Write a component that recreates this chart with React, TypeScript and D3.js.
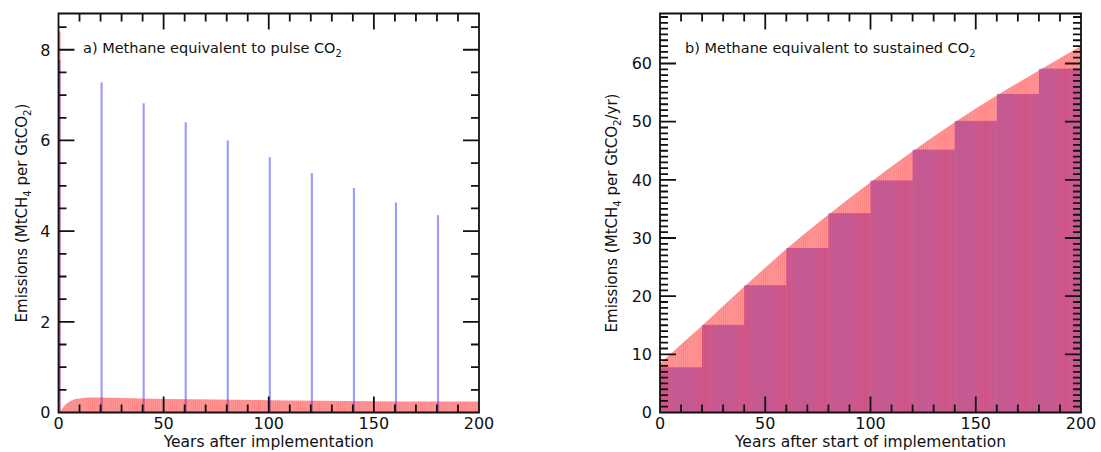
import { useEffect, useRef } from "react";
import * as d3 from "d3";

// panel a) methane equivalent to a CO2 pulse
const pulseYears = [0, 20, 40, 60, 80, 100, 120, 140, 160, 180];
const co2PulseEquiv = [7.78, 7.28, 6.82, 6.4, 6.0, 5.63, 5.28, 4.95, 4.63, 4.35];
const ch4SpikeYear = 0;
const ch4SpikeValue = 8.4;
const ch4TailYears = [1, 2, 3, 5, 7, 10, 15, 20, 30, 50, 75, 100, 125, 150, 175, 200];
const ch4TailValues = [0.04, 0.1, 0.16, 0.23, 0.28, 0.31, 0.33, 0.33, 0.32, 0.3, 0.285, 0.27, 0.26, 0.25, 0.245, 0.24];

// panel b) methane equivalent to sustained CO2
const stepStarts = [0, 20, 40, 60, 80, 100, 120, 140, 160, 180];
const stepWidth = 20;
const co2SustainedEquiv = [7.78, 15.06, 21.88, 28.28, 34.28, 39.91, 45.19, 50.14, 54.77, 59.12];
const ch4SustYears = [0, 10, 20, 30, 40, 60, 80, 100, 120, 140, 160, 180, 200];
const ch4SustValues = [8.4, 11.7, 14.9, 18.3, 21.6, 28.1, 34.0, 39.6, 44.9, 49.9, 54.5, 58.8, 63.0];

const xMajor = [0, 50, 100, 150, 200];
const xMinor = d3.range(0, 201, 10);
const yMajorA = [0, 2, 4, 6, 8];
const yMajorB = [0, 10, 20, 30, 40, 50, 60];

const FONT = "DejaVu Sans";

type Seg = { t: string; sub?: boolean };

function rich(sel: any, segs: Seg[], size: number) {
  const shift = size * 0.28;
  let down = false;
  segs.forEach((s) => {
    const ts = sel.append("tspan").text(s.t);
    if (s.sub) {
      ts.attr("font-size", size * 0.68).attr("dy", down ? 0 : shift);
      down = true;
    } else if (down) {
      ts.attr("dy", -shift);
      down = false;
    }
  });
}

function drawPanel(svg: any, defs: any, tickPath: any, o: any) {
  const x = d3.scaleLinear().domain([0, 200]).range([o.left, o.right]);
  const y = d3.scaleLinear().domain([0, o.yMax]).range([o.bottom, o.top]);
  const g = svg.append("g");

  const clipId = `clip-${o.id}`;
  defs.append("clipPath").attr("id", clipId).append("rect")
    .attr("x", o.left).attr("y", o.top)
    .attr("width", o.right - o.left).attr("height", o.bottom - o.top);

  // one-year wide bars look striped, emulate with a pattern
  const yearW = x(1) - x(0);
  const stripe = (name: string, color: string, opacity: number, lineOpacity: number) => {
    const pid = `${name}-${o.id}`;
    const pat = defs.append("pattern").attr("id", pid)
      .attr("patternUnits", "userSpaceOnUse")
      .attr("x", o.left).attr("y", 0)
      .attr("width", yearW).attr("height", 452);
    pat.append("rect").attr("width", yearW).attr("height", 452)
      .attr("fill", color).attr("fill-opacity", opacity);
    pat.append("rect").attr("width", 0.4).attr("height", 452)
      .attr("fill", color).attr("fill-opacity", lineOpacity);
    return `url(#${pid})`;
  };

  const marks = g.append("g").attr("clip-path", `url(#${clipId})`);
  o.draw(marks, x, y, stripe);

  // inward ticks on all four sides (collected, stroked at the end)
  xMinor.forEach((d) => {
    const len = xMajor.includes(d) ? 16 : 8;
    tickPath.moveTo(x(d), o.bottom); tickPath.lineTo(x(d), o.bottom - len);
    tickPath.moveTo(x(d), o.top); tickPath.lineTo(x(d), o.top + len);
  });
  o.yMinor.forEach((d: number) => {
    const len = o.yMajor.includes(d) ? 16 : 8;
    tickPath.moveTo(o.left, y(d)); tickPath.lineTo(o.left + len, y(d));
    tickPath.moveTo(o.right, y(d)); tickPath.lineTo(o.right - len, y(d));
  });
  tickPath.rect(o.left, o.top, o.right - o.left, o.bottom - o.top);

  const txt = g.append("g").attr("font-family", FONT).attr("fill", "#111");
  txt.selectAll(".xlab").data(xMajor).join("text")
    .attr("x", (d: number) => x(d)).attr("y", o.bottom + 16)
    .attr("text-anchor", "middle").attr("font-size", 16)
    .text((d: number) => d);
  txt.selectAll(".ylab").data(o.yMajor).join("text")
    .attr("x", o.left - 8).attr("y", (d: number) => y(d)).attr("dy", "0.36em")
    .attr("text-anchor", "end").attr("font-size", 16)
    .text((d: number) => d);

  txt.append("text")
    .attr("x", (o.left + o.right) / 2).attr("y", 447)
    .attr("text-anchor", "middle").attr("font-size", 15.5)
    .text(o.xTitle);

  const yt = txt.append("text")
    .attr("transform", `translate(${o.yTitleX},${(o.top + o.bottom) / 2}) rotate(-90)`)
    .attr("text-anchor", "middle").attr("font-size", 15);
  rich(yt, o.yTitle, 15);

  const tt = txt.append("text")
    .attr("x", o.titleX).attr("y", 53).attr("font-size", 14.5);
  rich(tt, o.title, 14.5);
}

export default function App() {
  const ref = useRef<SVGSVGElement>(null);

  useEffect(() => {
    const svg = d3.select(ref.current);
    svg.selectAll("*").remove();
    const defs = svg.append("defs");
    const ticks = d3.path();

    drawPanel(svg, defs, ticks, {
      id: "a", left: 58.5, right: 479, top: 13.5, bottom: 412.5,
      yMax: 8.8, yMajor: yMajorA, yMinor: d3.range(0, 8.6, 0.5),
      xTitle: "Years after implementation",
      yTitleX: 27,
      yTitle: [{ t: "Emissions (MtCH" }, { t: "4", sub: true }, { t: " per GtCO" }, { t: "2", sub: true }, { t: ")" }],
      titleX: 83,
      title: [{ t: "a) Methane equivalent to pulse CO" }, { t: "2", sub: true }],
      draw: (g: any, x: any, y: any, stripe: any) => {
        // CO2 pulses (blue)
        g.selectAll(".pulse").data(pulseYears).join("rect")
          .attr("x", (d: number) => x(d)).attr("width", x(1) - x(0))
          .attr("y", (_: number, i: number) => y(co2PulseEquiv[i]))
          .attr("height", (_: number, i: number) => y(0) - y(co2PulseEquiv[i]))
          .attr("fill", "rgb(0,0,255)").attr("fill-opacity", 0.4);
        // methane: spike then long tail
        g.append("rect")
          .attr("x", x(ch4SpikeYear)).attr("width", x(1) - x(0))
          .attr("y", y(ch4SpikeValue)).attr("height", y(0) - y(ch4SpikeValue))
          .attr("fill", "rgb(255,0,0)").attr("fill-opacity", 0.42);
        const tail = ch4TailYears.map((t, i) => [t, ch4TailValues[i]]);
        g.append("path")
          .attr("d", d3.area().x((d: any) => x(d[0])).y0(y(0)).y1((d: any) => y(d[1])).curve(d3.curveMonotoneX)(tail as any))
          .attr("fill", stripe("red", "rgb(255,0,0)", 0.42, 0.2));
      },
    });

    drawPanel(svg, defs, ticks, {
      id: "b", left: 660, right: 1081, top: 13.5, bottom: 412.5,
      yMax: 68.6, yMajor: yMajorB, yMinor: d3.range(0, 69, 1),
      xTitle: "Years after start of implementation",
      yTitleX: 617,
      yTitle: [{ t: "Emissions (MtCH" }, { t: "4", sub: true }, { t: " per GtCO" }, { t: "2", sub: true }, { t: "/yr)" }],
      titleX: 685,
      title: [{ t: "b) Methane equivalent to sustained CO" }, { t: "2", sub: true }],
      draw: (g: any, x: any, y: any, stripe: any) => {
        const blue = stripe("blue", "rgb(0,0,255)", 0.38, 0.0);
        g.selectAll(".step").data(stepStarts).join("rect")
          .attr("x", (d: number) => x(d)).attr("width", x(stepWidth) - x(0))
          .attr("y", (_: number, i: number) => y(co2SustainedEquiv[i]))
          .attr("height", (_: number, i: number) => y(0) - y(co2SustainedEquiv[i]))
          .attr("fill", blue);
        const pts = ch4SustYears.map((t, i) => [t, ch4SustValues[i]]);
        g.append("path")
          .attr("d", d3.area().x((d: any) => x(d[0])).y0(y(0)).y1((d: any) => y(d[1])).curve(d3.curveMonotoneX)(pts as any))
          .attr("fill", stripe("red", "rgb(255,0,0)", 0.42, 0.2));
      },
    });

    svg.append("path").attr("d", ticks.toString())
      .attr("fill", "none").attr("stroke", "#111").attr("stroke-width", 1.8);
  }, []);

  return (
    <svg
      ref={ref}
      width={1101}
      height={452}
      style={{ position: "absolute", left: 0, top: 0, background: "#fff" }}
    />
  );
}
